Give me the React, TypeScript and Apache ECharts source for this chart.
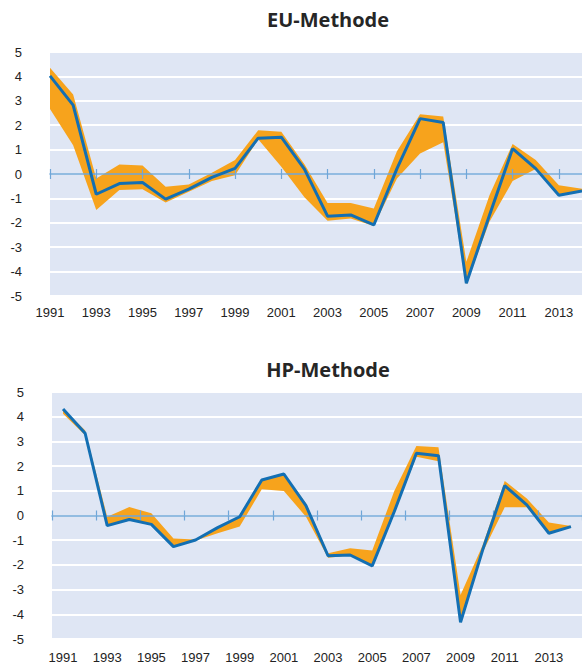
import React, { useEffect, useRef } from "react";
import * as echarts from "echarts";

const years = ["1991","1992","1993","1994","1995","1996","1997","1998","1999","2000","2001","2002","2003","2004","2005","2006","2007","2008","2009","2010","2011","2012","2013","2014"];

const euLine = [4.02, 2.82, -0.83, -0.39, -0.35, -1.03, -0.62, -0.14, 0.23, 1.47, 1.51, 0.2, -1.73, -1.68, -2.09, 0.22, 2.27, 2.11, -4.48, -1.69, 1.04, 0.22, -0.87, -0.7];
const euUpper = [4.35, 3.26, -0.18, 0.39, 0.35, -0.52, -0.43, 0.05, 0.57, 1.79, 1.73, 0.4, -1.19, -1.19, -1.41, 0.93, 2.45, 2.36, -3.6, -0.87, 1.23, 0.57, -0.46, -0.6];
const euLower = [2.66, 1.18, -1.48, -0.66, -0.62, -1.17, -0.73, -0.29, -0.05, 1.42, 0.3, -0.95, -1.92, -1.82, -2.13, -0.18, 0.84, 1.3, -4.52, -1.96, -0.29, 0.2, -0.89, -0.72];

const hpLine = [4.31, 3.33, -0.41, -0.16, -0.36, -1.26, -0.99, -0.49, -0.05, 1.44, 1.68, 0.4, -1.63, -1.6, -2.04, 0.16, 2.52, 2.42, -4.32, -1.4, 1.21, 0.43, -0.72, -0.45];
const hpUpper = [4.31, 3.45, -0.05, 0.34, 0.09, -0.93, -0.97, -0.48, -0.02, 1.46, 1.7, 0.5, -1.53, -1.33, -1.42, 0.99, 2.81, 2.76, -3.22, -1.2, 1.4, 0.69, -0.28, -0.43];
const hpLower = [4.12, 3.25, -0.42, -0.18, -0.37, -1.27, -1.01, -0.72, -0.45, 1.06, 0.99, -0.05, -1.71, -1.62, -2.05, 0.09, 2.38, 2.2, -4.33, -1.5, 0.33, 0.33, -0.74, -0.47];

const titles = ["EU-Methode", "HP-Methode"];

const ORANGE = "#f7a31c";
const BLUE = "#136fb3";
const BG = "#dfe6f4";
const AXIS = "#6fa6d8";
const LABEL = "#222222";

export default function App() {
  const ref = useRef<HTMLDivElement>(null);
  useEffect(() => {
    if (!ref.current) return;
    const chart = echarts.init(ref.current, null, { renderer: "svg" });
    const grids = [
      { left: 50, top: 52, width: 536, height: 244, show: true, backgroundColor: BG, borderWidth: 0 },
      { left: 52, top: 392, width: 530, height: 247, show: true, backgroundColor: BG, borderWidth: 0 },
    ];
    const boundary = [false, true];
    const labelMargin = [10, 12];
    const xAxis: any[] = [];
    const yAxis: any[] = [];
    const series: any[] = [];
    const sets = [
      { line: euLine, upper: euUpper, lower: euLower },
      { line: hpLine, upper: hpUpper, lower: hpLower },
    ];
    for (let i = 0; i < 2; i++) {
      xAxis.push({
        gridIndex: i, type: "category", data: years, boundaryGap: boundary[i], position: "bottom",
        axisLine: { show: false, onZero: false }, axisTick: { show: false },
        axisLabel: { interval: 1, fontSize: 13, color: LABEL, fontFamily: "Liberation Sans", margin: labelMargin[i] },
        splitLine: { show: false },
      });
      xAxis.push({
        gridIndex: i, type: "category", data: years, boundaryGap: boundary[i], position: "top", z: 3,
        axisLine: { show: true, onZero: true, onZeroAxisIndex: i, lineStyle: { color: AXIS, width: 1.5 } },
        axisTick: { show: true, interval: 1, length: 5, lineStyle: { color: AXIS, width: 1.2 } },
        axisLabel: { show: false }, splitLine: { show: false },
      });
      xAxis.push({
        gridIndex: i, type: "category", data: years, boundaryGap: boundary[i], position: "top", z: 3,
        axisLine: { show: false, onZero: true, onZeroAxisIndex: i },
        axisTick: { show: true, inside: true, interval: 1, length: 5, lineStyle: { color: AXIS, width: 1.2 } },
        axisLabel: { show: false }, splitLine: { show: false },
      });
      yAxis.push({
        gridIndex: i, type: "value", min: -5, max: 5, interval: 1,
        axisLine: { show: false }, axisTick: { show: false },
        axisLabel: { fontSize: 13, color: LABEL, fontFamily: "Liberation Sans", margin: 28 },
        splitLine: { show: true, lineStyle: { color: "#ffffff", width: 2 } },
      });
      const s = sets[i];
      const diff = s.upper.map((u, k) => +(u - s.lower[k]).toFixed(3));
      series.push({
        type: "line", xAxisIndex: 3 * i, yAxisIndex: i, data: s.lower, stack: "band" + i, stackStrategy: "all",
        symbol: "none", lineStyle: { width: 0, opacity: 0 }, z: 1, silent: true,
      });
      series.push({
        type: "line", xAxisIndex: 3 * i, yAxisIndex: i, data: diff, stack: "band" + i, stackStrategy: "all",
        symbol: "none", lineStyle: { width: 0, opacity: 0 }, areaStyle: { color: ORANGE, opacity: 1 }, z: 1, silent: true,
      });
      series.push({
        type: "line", xAxisIndex: 3 * i, yAxisIndex: i, data: s.line,
        symbol: "none", lineStyle: { color: BLUE, width: 3 }, z: 5, silent: true,
      });
    }
    const titleY = [19, 369];
    chart.setOption({
      animation: false,
      grid: grids,
      xAxis, yAxis, series,
      graphic: titles.map((t, i) => ({
        type: "text", x: 328, y: titleY[i], z: 10,
        style: {
          text: t, fill: "#262626", font: 'bold 20px "Open Sans"',
          align: "center", verticalAlign: "middle", textAlign: "center", textVerticalAlign: "middle",
        },
      })),
    });
    return () => chart.dispose();
  }, []);
  return <div ref={ref} style={{ position: "fixed", left: 0, top: 0, width: 582, height: 666, background: "#fff" }} />;
}
